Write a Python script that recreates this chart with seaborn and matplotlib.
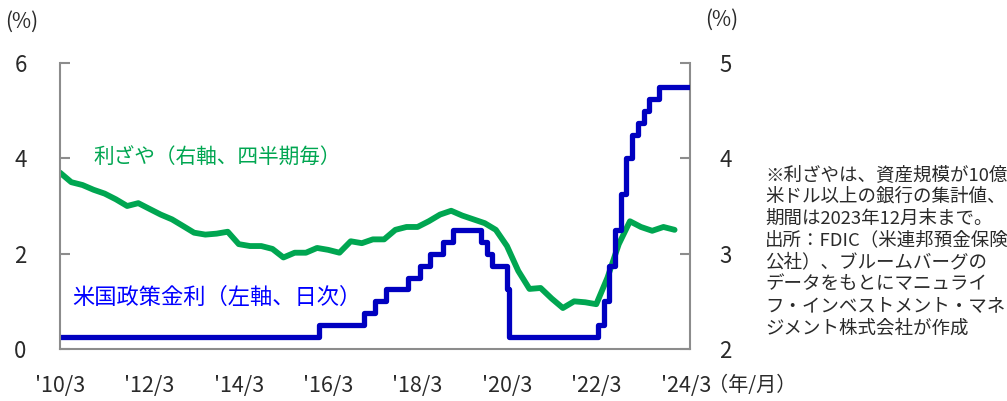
import matplotlib
matplotlib.use("Agg")
import matplotlib.pyplot as plt
import seaborn as sns
import pandas as pd

# US policy rate (upper bound, daily steps) - change dates and levels
fed_dates = [
    "2010-03-01", "2015-12-17", "2016-12-15", "2017-03-16", "2017-06-15",
    "2017-12-14", "2018-03-22", "2018-06-14", "2018-09-27", "2018-12-20",
    "2019-08-01", "2019-09-19", "2019-10-31", "2020-03-04", "2020-03-16",
    "2022-03-17", "2022-05-05", "2022-06-16", "2022-07-28", "2022-09-22",
    "2022-11-03", "2022-12-15", "2023-02-02", "2023-03-23", "2023-05-04",
    "2023-07-27", "2024-04-05",
]
fed_rate = [
    0.25, 0.50, 0.75, 1.00, 1.25,
    1.50, 1.75, 2.00, 2.25, 2.50,
    2.25, 2.00, 1.75, 1.25, 0.25,
    0.50, 1.00, 1.75, 2.50, 3.25,
    4.00, 4.50, 4.75, 5.00, 5.25,
    5.50, 5.50,
]

# net interest margin, quarterly, Mar 2010 - Dec 2023
nim_start = "2010-03-01"
nim = [
    3.85, 3.75, 3.72, 3.67, 3.63, 3.57, 3.50, 3.53,
    3.47, 3.41, 3.36, 3.29, 3.22, 3.20, 3.21, 3.23,
    3.10, 3.08, 3.08, 3.05, 2.96, 3.01, 3.01, 3.06,
    3.04, 3.01, 3.13, 3.11, 3.15, 3.15, 3.25, 3.28,
    3.28, 3.34, 3.41, 3.45, 3.40, 3.36, 3.32, 3.25,
    3.08, 2.82, 2.63, 2.64, 2.53, 2.43, 2.50, 2.49,
    2.47, 2.75, 3.10, 3.34, 3.28, 3.24, 3.28, 3.25,
]

xtick_labels = ["'10/3", "'12/3", "'14/3", "'16/3", "'18/3", "'20/3", "'22/3", "'24/3"]
xtick_dates = pd.to_datetime([f"20{s[1:3]}-03-01" for s in xtick_labels])

note_lines = [
    "※利ざやは、資産規模が10億",
    "米ドル以上の銀行の集計値、",
    "期間は2023年12月末まで。",
    "出所：FDIC（米連邦預金保険",
    "公社）、ブルームバーグの",
    "データをもとにマニュライ",
    "フ・インベストメント・マネ",
    "ジメント株式会社が作成",
]

fed = pd.DataFrame({"date": pd.to_datetime(fed_dates), "rate": fed_rate})
nim_df = pd.DataFrame({"date": pd.date_range(nim_start, periods=len(nim), freq="3MS"), "nim": nim})

sns.set_style("white")
plt.rcParams["font.family"] = ["Noto Sans CJK JP", "DejaVu Sans"]

BLUE = "#0000c0"
GREEN = "#00a651"
GRAY = "#8c8c8c"
TXT = "#2a2a2a"

W, H = 1007, 401
fig = plt.figure(figsize=(W / 100, H / 100), dpi=100)
ax = fig.add_axes([60 / W, 1 - 349 / H, 630 / W, (349 - 63) / H])
ax2 = ax.twinx()

sns.lineplot(data=nim_df, x="date", y="nim", ax=ax2, color=GREEN, linewidth=4.2,
             solid_joinstyle="round", solid_capstyle="round")
sns.lineplot(data=fed, x="date", y="rate", ax=ax, color=BLUE, linewidth=3.8,
             drawstyle="steps-post")
ax.set_zorder(ax2.get_zorder() + 1)
ax.patch.set_visible(False)

ax.set_xlim(pd.Timestamp("2010-03-01"), pd.Timestamp("2024-04-05"))
ax.set_ylim(0, 6)
ax2.set_ylim(2, 5)
ax.set_yticks([0, 2, 4, 6])
ax2.set_yticks([2, 3, 4, 5])
ax.set_xticks(xtick_dates)
ax.set_xticklabels(xtick_labels)
ax.set_xlabel("")
ax.set_ylabel("")
ax2.set_xlabel("")
ax2.set_ylabel("")

for a in (ax, ax2):
    a.spines["top"].set_visible(False)
    for s in ("left", "right", "bottom"):
        a.spines[s].set_color(GRAY)
        a.spines[s].set_linewidth(1.5)
ax.spines["right"].set_visible(False)
ax2.spines["left"].set_visible(False)
ax2.spines["bottom"].set_visible(False)

ax.tick_params(axis="y", direction="in", length=7, width=1.5, color=GRAY,
               labelsize=16, pad=24, labelcolor=TXT)
ax.tick_params(axis="x", direction="in", length=7, width=1.5, color=GRAY,
               labelsize=15.5, pad=19, labelcolor=TXT)
ax2.tick_params(axis="y", direction="in", length=7, width=1.5, color=GRAY,
                labelsize=16, pad=21, labelcolor=TXT)

def px(x, y):
    return x / W, 1 - y / H

fig.text(*px(22, 22), "(%)", ha="center", va="center", fontsize=15, color=TXT)
fig.text(*px(722, 20), "(%)", ha="center", va="center", fontsize=15, color=TXT)
fig.text(*px(708, 385), "（年/月）", ha="left", va="center", fontsize=14.5, color=TXT)
fig.text(*px(93, 158), "利ざや（右軸、四半期毎）", ha="left", va="center",
         fontsize=14.9, color=GREEN)
fig.text(*px(72, 297), "米国政策金利（左軸、日次）", ha="left", va="center",
         fontsize=16, color="#0000ff")
for i, line in enumerate(note_lines):
    fig.text(*px(765, 175 + i * 21.9), line, ha="left", va="center",
             fontsize=13.3, color=TXT)

fig.savefig("out.png", dpi=100)
